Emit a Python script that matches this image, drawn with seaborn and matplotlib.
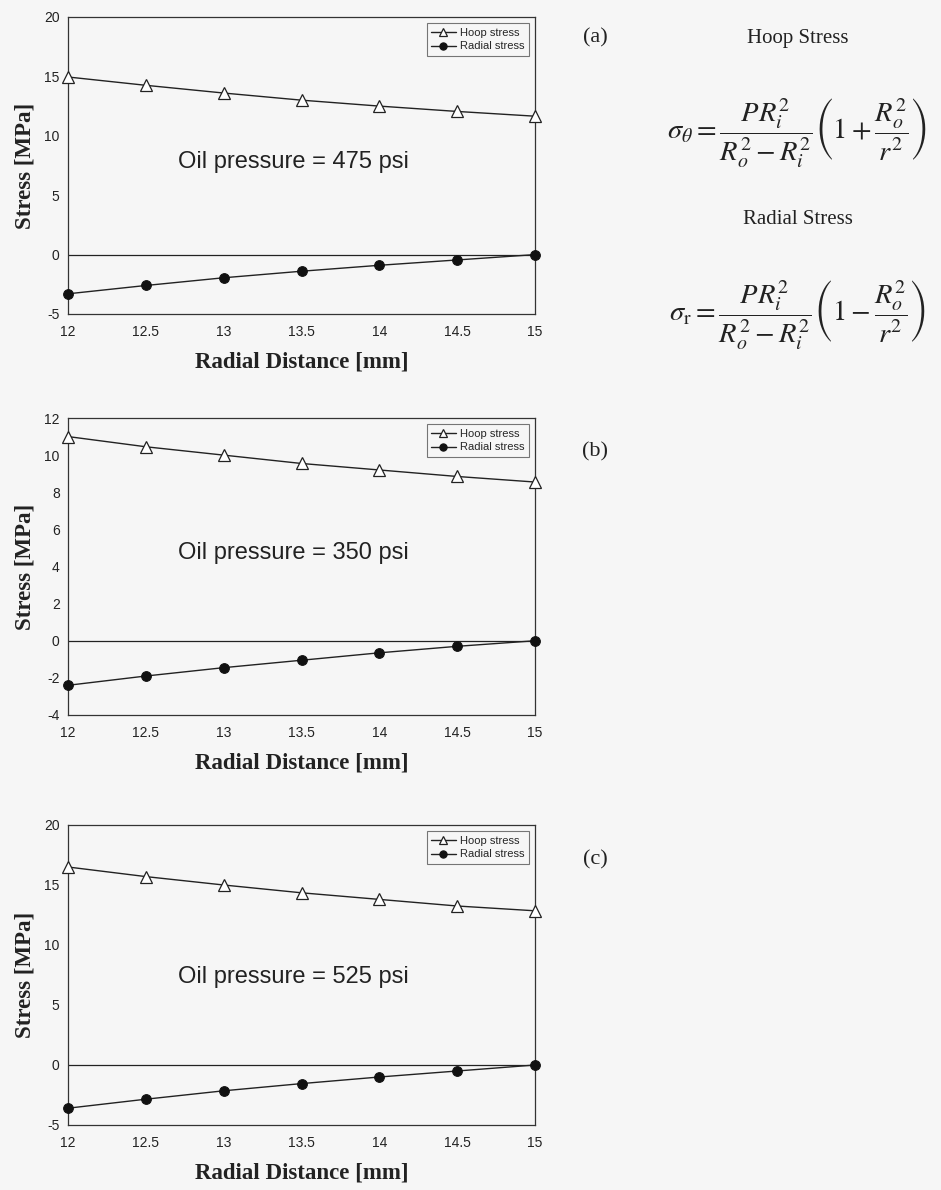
import pandas as pd
import matplotlib
matplotlib.use('Agg')
import matplotlib.pyplot as plt
import seaborn as sns

radius = [12, 12.5, 13, 13.5, 14, 14.5, 15]

hoop_475 = [14.95, 14.25, 13.6, 13.0, 12.5, 12.05, 11.65]
radial_475 = [-3.3, -2.6, -1.95, -1.4, -0.9, -0.45, 0.0]

hoop_350 = [11.0, 10.45, 10.0, 9.55, 9.2, 8.85, 8.55]
radial_350 = [-2.4, -1.9, -1.45, -1.05, -0.65, -0.3, 0.0]

hoop_525 = [16.5, 15.7, 15.0, 14.35, 13.8, 13.25, 12.85]
radial_525 = [-3.6, -2.85, -2.15, -1.55, -1.0, -0.5, 0.0]

pressures = ['475', '350', '525']
panel_tags = ['(a)', '(b)', '(c)']
y_limits = [(-5, 20), (-4, 12), (-5, 20)]
y_steps = [5, 2, 5]

sns.set_style('white')
plt.rcParams['font.family'] = ['Liberation Sans', 'DejaVu Sans']
plt.rcParams['mathtext.fontset'] = 'stix'
plt.rcParams['axes.unicode_minus'] = False

bg = '#f6f6f6'
ink = '#222222'
fig = plt.figure(figsize=(9.41, 11.9), dpi=100, facecolor=bg)

# axes boxes (left, top, bottom) in pixels of the 941x1190 page
px_boxes = [(68, 17, 314), (68, 418, 715), (68, 825, 1125)]
right_px = 535
series = [(hoop_475, radial_475), (hoop_350, radial_350), (hoop_525, radial_525)]
text_y = [0.512, 0.545, 0.493]

for i in range(3):
    l, t, b = px_boxes[i]
    ax = fig.add_axes([l / 941, 1 - b / 1190, (right_px - l) / 941, (b - t) / 1190])
    ax.set_facecolor(bg)
    hoop, radial = series[i]
    df = pd.DataFrame({'r': radius, 'hoop': hoop, 'radial': radial})

    ax.axhline(0, color=ink, lw=0.9, zorder=1)
    sns.lineplot(data=df, x='r', y='hoop', ax=ax, color=ink, lw=1.0,
                 marker='^', markersize=8, markerfacecolor='white',
                 markeredgecolor=ink, markeredgewidth=0.9,
                 label='Hoop stress', clip_on=False, zorder=3)
    sns.lineplot(data=df, x='r', y='radial', ax=ax, color=ink, lw=1.0,
                 marker='o', markersize=7, markerfacecolor='#111111',
                 markeredgecolor='#111111', label='Radial stress',
                 clip_on=False, zorder=3)

    lo, hi = y_limits[i]
    ax.set_xlim(12, 15)
    ax.set_ylim(lo, hi)
    ax.set_xticks(radius)
    ax.set_xticklabels(['12', '12.5', '13', '13.5', '14', '14.5', '15'])
    ax.set_yticks(range(lo, hi + 1, y_steps[i]))
    ax.tick_params(axis='both', labelsize=10, length=3, width=0.8,
                   direction='out', color='#333333', labelcolor=ink)
    ax.tick_params(axis='x', pad=5)
    ax.tick_params(axis='y', pad=3)
    for s in ax.spines.values():
        s.set_color('#333333')
        s.set_linewidth(0.9)
        s.set_visible(True)

    ax.set_xlabel('Radial Distance [mm]', family='Liberation Serif',
                  fontweight='bold', fontsize=16.5, labelpad=9, color=ink)
    ax.set_ylabel('Stress [MPa]', family='Liberation Serif',
                  fontweight='bold', fontsize=16.5, labelpad=6, color=ink)

    ax.text(0.483, text_y[i], 'Oil pressure = %s psi' % pressures[i],
            transform=ax.transAxes, ha='center', va='center', fontsize=17,
            color=ink)

    leg = ax.legend(loc='upper right', fontsize=8, frameon=True,
                    fancybox=False, edgecolor='#555555', handlelength=2.2,
                    handletextpad=0.4, borderpad=0.4, labelspacing=0.35,
                    borderaxespad=0.55, markerscale=0.75)
    leg.get_frame().set_linewidth(0.8)
    leg.get_frame().set_facecolor(bg)

# panel tags and equations on the right
for tag, yy in zip(panel_tags, [38, 452, 860]):
    fig.text(595 / 941, 1 - yy / 1190, tag, family='Liberation Serif',
             fontsize=16, ha='center', va='center', color=ink)

fig.text(798 / 941, 1 - 38 / 1190, 'Hoop Stress', family='Liberation Serif',
         fontsize=15, ha='center', va='center', color=ink)
fig.text(798 / 941, 1 - 220 / 1190, 'Radial Stress', family='Liberation Serif',
         fontsize=15, ha='center', va='center', color=ink)

eq_hoop = r'$\sigma_{\theta} = \dfrac{PR_i^2}{R_o^2 - R_i^2}\left(1+\dfrac{R_o^2}{r^2}\right)$'
eq_radial = r'$\sigma_{\mathrm{r}} = \dfrac{PR_i^2}{R_o^2 - R_i^2}\left(1-\dfrac{R_o^2}{r^2}\right)$'
fig.text(797 / 941, 1 - 133 / 1190, eq_hoop, fontsize=20.5, ha='center',
         va='center', color=ink)
fig.text(797 / 941, 1 - 315 / 1190, eq_radial, fontsize=20.5, ha='center',
         va='center', color=ink)

fig.savefig('out.png', dpi=100, facecolor=bg)
